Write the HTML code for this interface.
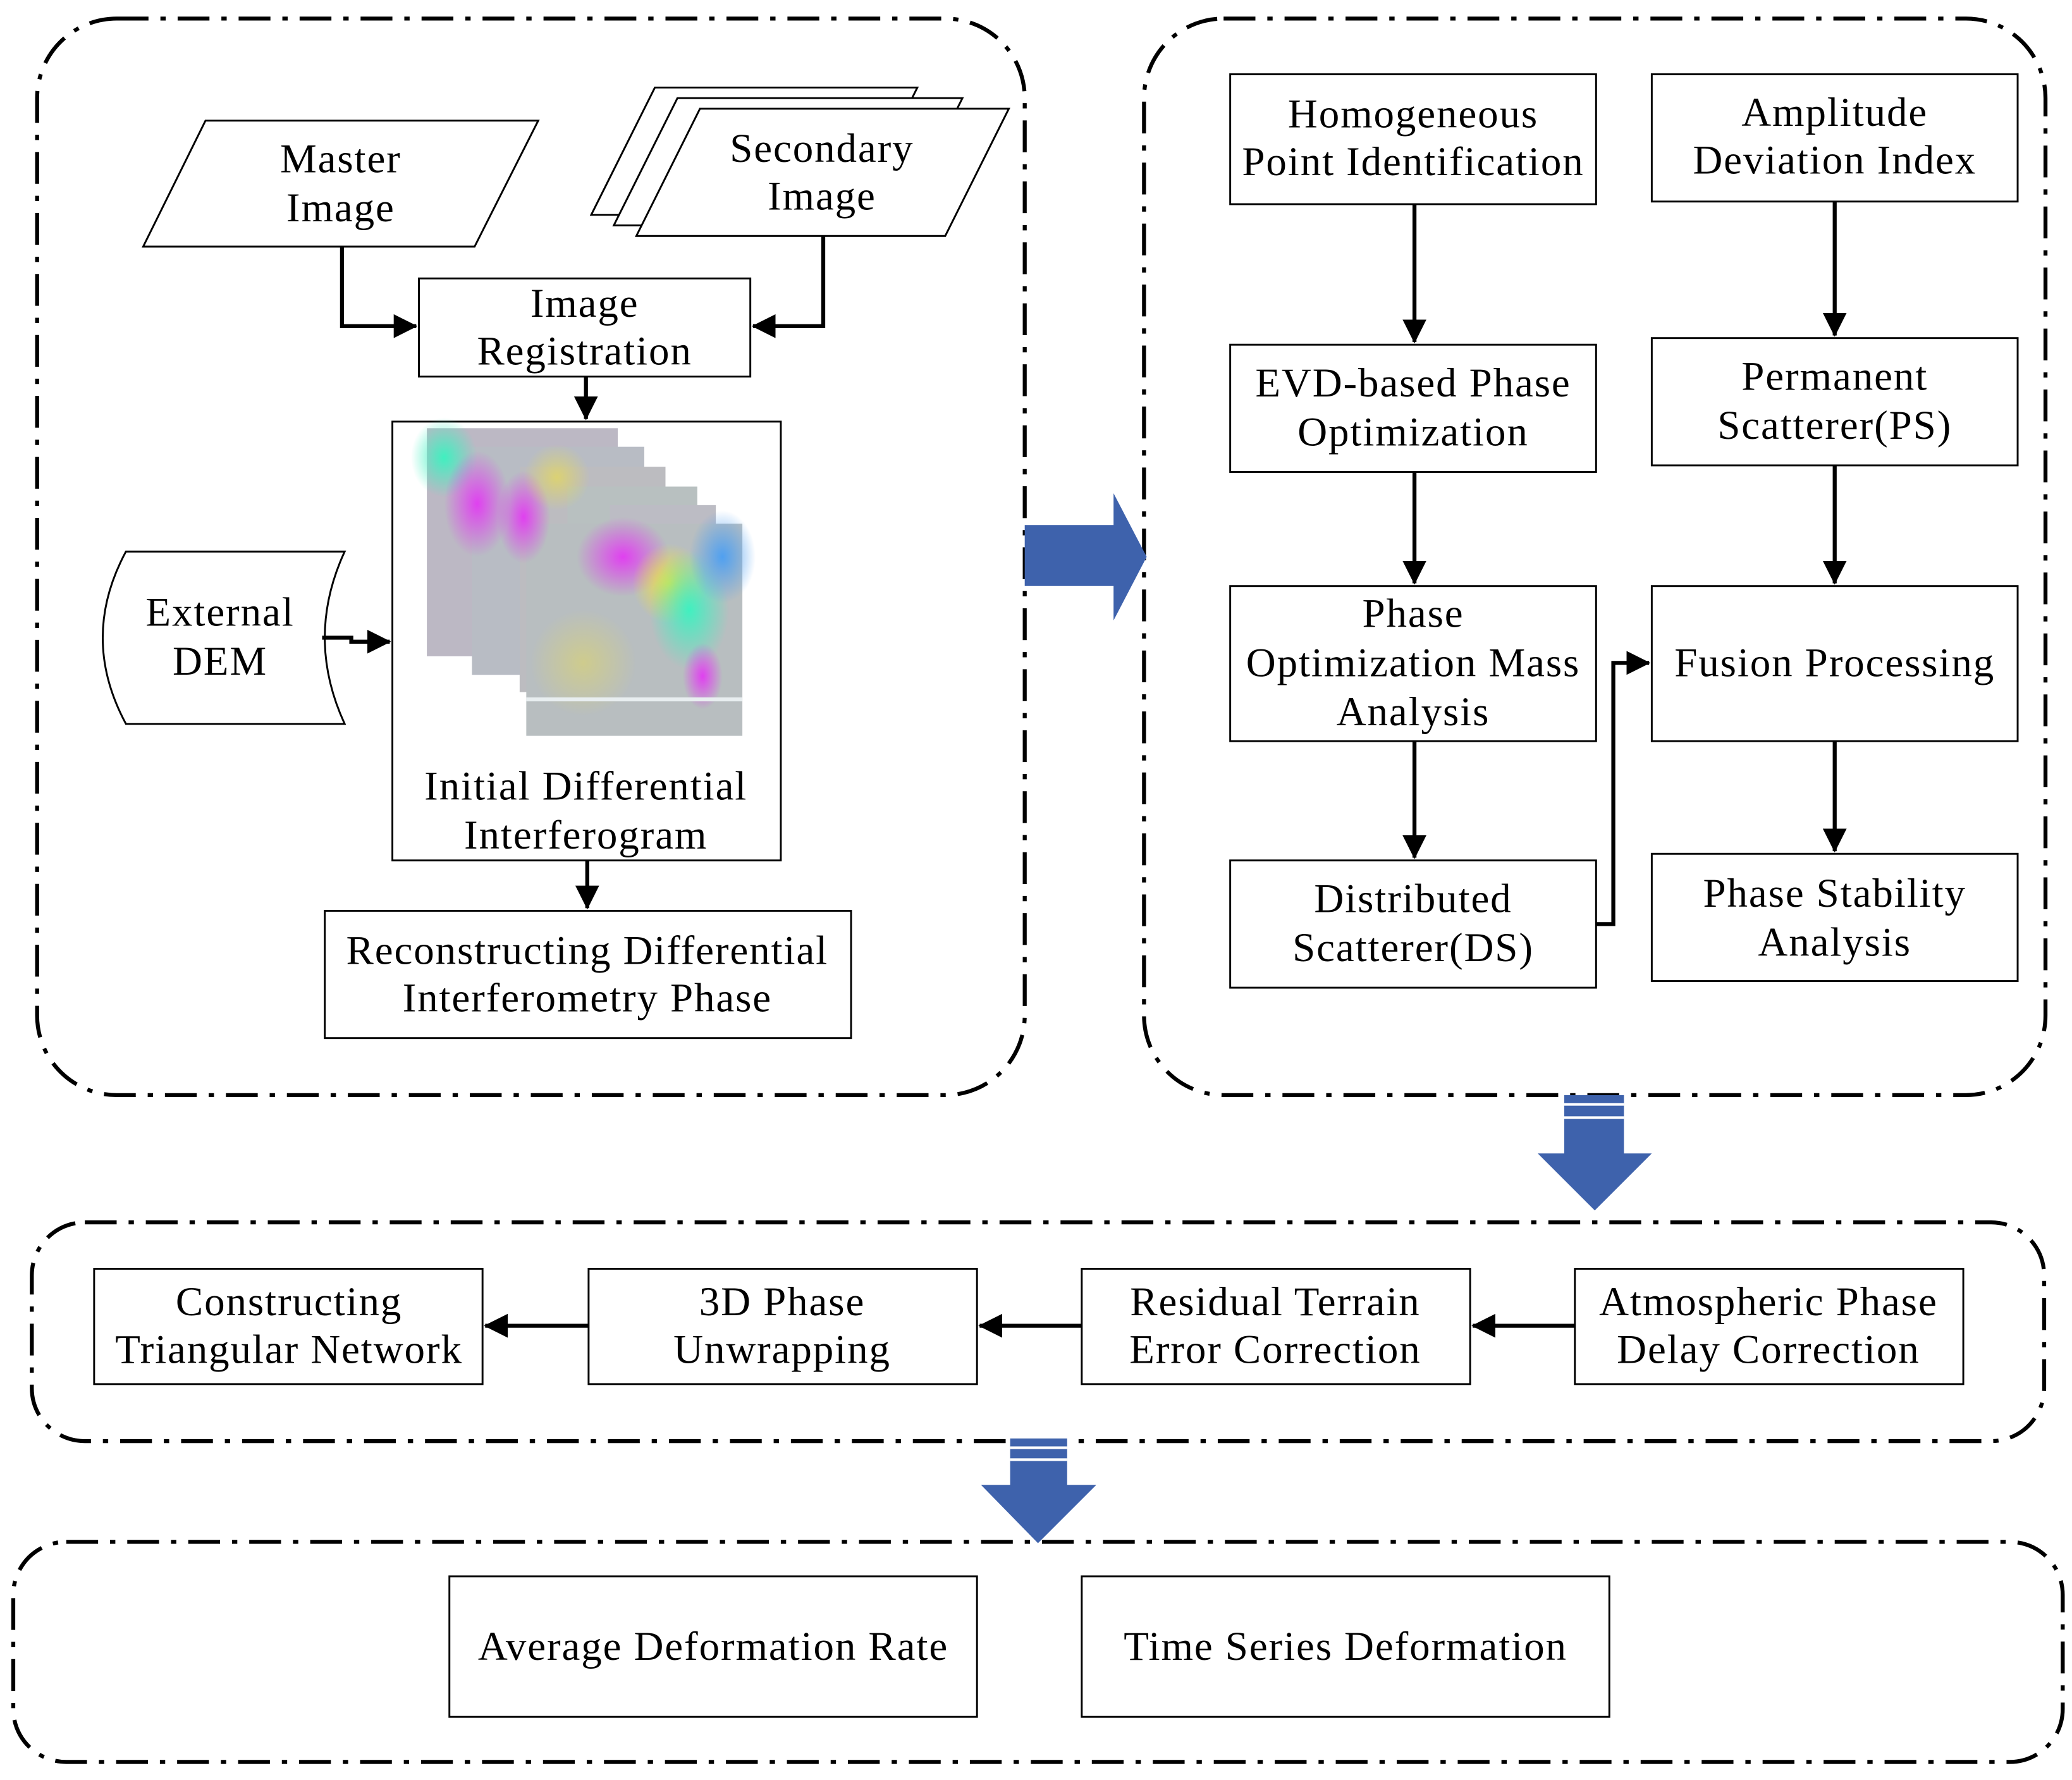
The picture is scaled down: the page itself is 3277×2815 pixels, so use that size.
<!DOCTYPE html>
<html><head><meta charset="utf-8"><style>
html,body{margin:0;padding:0;background:#fff;}
svg{display:block;}
text{font-family:"Liberation Serif",serif;font-size:31px;letter-spacing:0.9px;fill:#000;text-anchor:middle;}
.b{fill:#fff;stroke:#000;stroke-width:1.4;}
.p{fill:none;stroke:#000;stroke-width:3;stroke-dasharray:24 9 4 9;}
.l{fill:none;stroke:#000;stroke-width:3;}
</style></head><body>
<svg width="3277" height="2815" viewBox="0 0 1563 1342.6" xmlns="http://www.w3.org/2000/svg">
<defs>
<marker id="a" markerWidth="18" markerHeight="18" refX="17" refY="9" orient="auto" markerUnits="userSpaceOnUse" viewBox="0 0 18 18">
<path d="M0,0 L18,9 L0,18z" fill="#000"/></marker>
<radialGradient id="g1"><stop offset="0" stop-color="#e040f0"/><stop offset="1" stop-color="#e040f0" stop-opacity="0"/></radialGradient>
<radialGradient id="g2"><stop offset="0" stop-color="#40f0c0"/><stop offset="1" stop-color="#40f0c0" stop-opacity="0"/></radialGradient>
<radialGradient id="g3"><stop offset="0" stop-color="#f0e040"/><stop offset="1" stop-color="#f0e040" stop-opacity="0"/></radialGradient>
<radialGradient id="g4"><stop offset="0" stop-color="#50a0f0"/><stop offset="1" stop-color="#50a0f0" stop-opacity="0"/></radialGradient>
</defs>
<rect class="p" x="28" y="14" width="745" height="812" rx="60"/>
<rect class="p" x="863" y="14" width="680" height="812" rx="60"/>
<rect class="p" x="24" y="922" width="1518" height="165" rx="40"/>
<rect class="p" x="10" y="1163" width="1546" height="166" rx="40"/>

<polygon class="b" points="155,91 406,91 358,186 108,186"/>
<text x="257" y="130">Master</text><text x="257" y="167">Image</text>
<polygon class="b" points="494,66 692,66 644,162 446,162"/>
<polygon class="b" points="511,74 726,74 678,170 463,170"/>
<polygon class="b" points="528,82 761,82 713,178 480,178"/>
<text x="620" y="122">Secondary</text><text x="620" y="158">Image</text>

<rect class="b" x="316" y="210" width="250" height="74"/>
<text x="441" y="239">Image</text><text x="441" y="275">Registration</text>
<polyline class="l" points="258,186 258,246 314,246" marker-end="url(#a)"/>
<polyline class="l" points="621,178 621,246 568,246" marker-end="url(#a)"/>
<line class="l" x1="442" y1="284" x2="442" y2="316" marker-end="url(#a)"/>

<rect class="b" x="296" y="318" width="293" height="331"/>
<g>
<rect x="322" y="323" width="144" height="172" fill="#bcb8c4"/>
<rect x="356" y="337" width="130" height="172" fill="#b8bcc4"/>
<rect x="392" y="352" width="110" height="170" fill="#bcbcc0"/>
<rect x="428" y="367" width="98" height="170" fill="#b8c0c0"/>
<rect x="460" y="381" width="80" height="170" fill="#bcbcc4"/>
<rect x="397" y="395" width="163" height="160" fill="#b8bec0"/>
<ellipse cx="335" cy="345" rx="25" ry="30" fill="url(#g2)"/>
<ellipse cx="360" cy="380" rx="25" ry="40" fill="url(#g1)"/>
<ellipse cx="395" cy="390" rx="20" ry="35" fill="url(#g1)"/>
<ellipse cx="420" cy="360" rx="25" ry="25" fill="url(#g3)" opacity="0.6"/>
<ellipse cx="470" cy="420" rx="35" ry="30" fill="url(#g1)"/>
<ellipse cx="505" cy="440" rx="28" ry="30" fill="url(#g3)"/>
<ellipse cx="520" cy="460" rx="30" ry="45" fill="url(#g2)"/>
<ellipse cx="545" cy="420" rx="25" ry="35" fill="url(#g4)"/>
<ellipse cx="440" cy="500" rx="40" ry="40" fill="url(#g3)" opacity="0.4"/>
<ellipse cx="530" cy="510" rx="15" ry="25" fill="url(#g1)"/>
<rect x="397" y="526" width="163" height="3" fill="#e8eef0"/>
</g>
<text x="442" y="603">Initial Differential</text><text x="442" y="640">Interferogram</text>

<path class="b" d="M95,416 L260,416 Q230,481 260,546 L95,546 Q60,481 95,416z"/>
<text x="166" y="472">External</text><text x="166" y="509">DEM</text>
<polyline class="l" points="243,481 265,481 265,484 294,484" marker-end="url(#a)"/>

<line class="l" x1="443" y1="649" x2="443" y2="685" marker-end="url(#a)"/>
<rect class="b" x="245" y="687" width="397" height="96"/>
<text x="443" y="727">Reconstructing Differential</text><text x="443" y="763">Interferometry Phase</text>

<polygon points="773,396 840,396 840,372 865,420 840,468 840,442 773,442" fill="#3e62ac"/>

<rect class="b" x="928" y="56" width="276" height="98"/>
<text x="1066" y="96">Homogeneous</text><text x="1066" y="132">Point Identification</text>
<rect class="b" x="1246" y="56" width="276" height="96"/>
<text x="1384" y="95">Amplitude</text><text x="1384" y="131">Deviation Index</text>
<rect class="b" x="928" y="260" width="276" height="96"/>
<text x="1066" y="299">EVD-based Phase</text><text x="1066" y="336">Optimization</text>
<rect class="b" x="1246" y="255" width="276" height="96"/>
<text x="1384" y="294">Permanent</text><text x="1384" y="331">Scatterer(PS)</text>
<rect class="b" x="928" y="442" width="276" height="117"/>
<text x="1066" y="473">Phase</text><text x="1066" y="510">Optimization Mass</text><text x="1066" y="547">Analysis</text>
<rect class="b" x="1246" y="442" width="276" height="117"/>
<text x="1384" y="510">Fusion Processing</text>
<rect class="b" x="928" y="649" width="276" height="96"/>
<text x="1066" y="688">Distributed</text><text x="1066" y="725">Scatterer(DS)</text>
<rect class="b" x="1246" y="644" width="276" height="96"/>
<text x="1384" y="684">Phase Stability</text><text x="1384" y="721">Analysis</text>
<line class="l" x1="1067" y1="154" x2="1067" y2="258" marker-end="url(#a)"/>
<line class="l" x1="1067" y1="356" x2="1067" y2="440" marker-end="url(#a)"/>
<line class="l" x1="1067" y1="559" x2="1067" y2="647" marker-end="url(#a)"/>
<line class="l" x1="1384" y1="152" x2="1384" y2="253" marker-end="url(#a)"/>
<line class="l" x1="1384" y1="351" x2="1384" y2="440" marker-end="url(#a)"/>
<line class="l" x1="1384" y1="559" x2="1384" y2="642" marker-end="url(#a)"/>
<polyline class="l" points="1204,697 1217,697 1217,500 1244,500" marker-end="url(#a)"/>

<polygon points="1180,826 1225,826 1225,870 1246,870 1203,913 1160,870 1180,870" fill="#3e62ac"/>
<rect x="1180" y="832" width="45" height="2" fill="#fff"/>
<rect x="1180" y="842" width="45" height="2" fill="#fff"/>

<rect class="b" x="71" y="957" width="293" height="87"/>
<text x="218" y="992">Constructing</text><text x="218" y="1028">Triangular Network</text>
<rect class="b" x="444" y="957" width="293" height="87"/>
<text x="590" y="992">3D Phase</text><text x="590" y="1028">Unwrapping</text>
<rect class="b" x="816" y="957" width="293" height="87"/>
<text x="962" y="992">Residual Terrain</text><text x="962" y="1028">Error Correction</text>
<rect class="b" x="1188" y="957" width="293" height="87"/>
<text x="1334" y="992">Atmospheric Phase</text><text x="1334" y="1028">Delay Correction</text>
<line class="l" x1="444" y1="1000" x2="366" y2="1000" marker-end="url(#a)"/>
<line class="l" x1="816" y1="1000" x2="739" y2="1000" marker-end="url(#a)"/>
<line class="l" x1="1188" y1="1000" x2="1111" y2="1000" marker-end="url(#a)"/>

<polygon points="762,1085 805,1085 805,1120 827,1120 783,1164 740,1120 762,1120" fill="#3e62ac"/>
<rect x="762" y="1091" width="43" height="2" fill="#fff"/>
<rect x="762" y="1100" width="43" height="2" fill="#fff"/>

<rect class="b" x="339" y="1189" width="398" height="106"/>
<text x="538" y="1252">Average Deformation Rate</text>
<rect class="b" x="816" y="1189" width="398" height="106"/>
<text x="1015" y="1252">Time Series Deformation</text>
</svg>
</body></html>
